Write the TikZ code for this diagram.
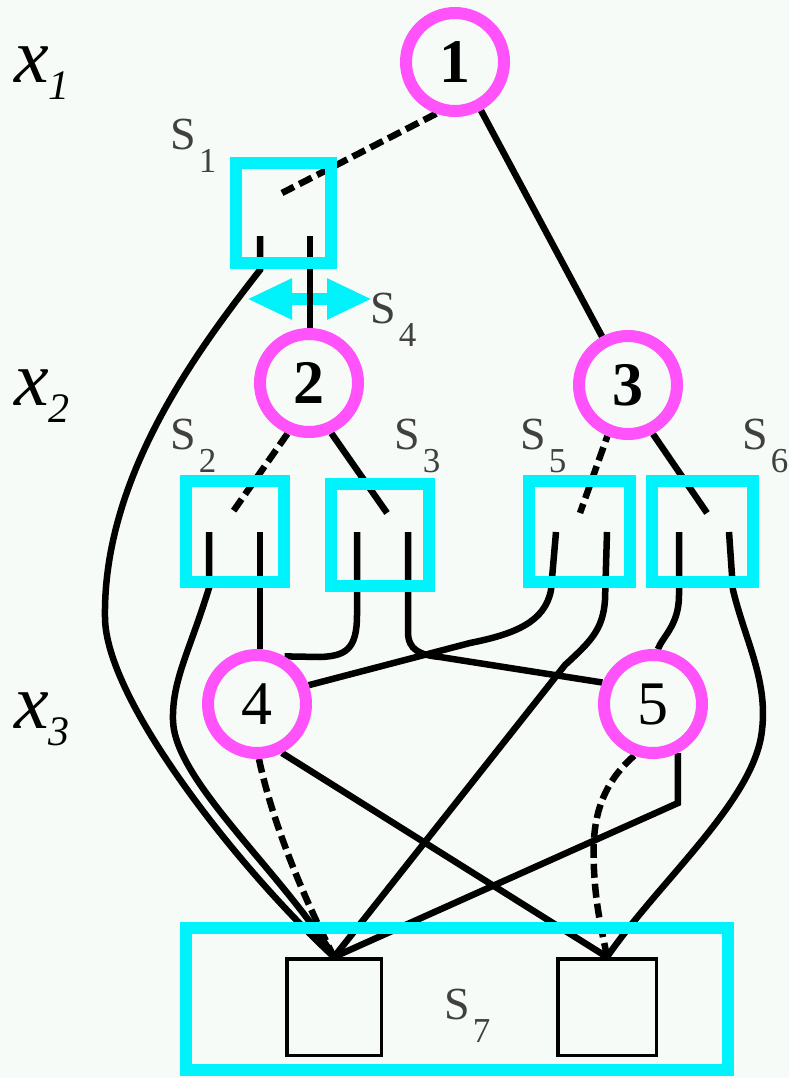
\documentclass[tikz,border=0pt]{standalone}
\usepackage{fontspec}
\setmainfont{Liberation Serif}
\usetikzlibrary{arrows.meta}
\definecolor{bg}{RGB}{246,251,247}
\definecolor{cyanc}{RGB}{0,242,250}
\definecolor{magc}{RGB}{255,82,250}
\pgfdeclarelayer{front}
\pgfsetlayers{main,front}
\newcommand{\slab}[1]{\fontsize{46}{46}\selectfont S\hspace{3pt}\raisebox{-23pt}{\fontsize{35}{35}\selectfont #1}}
\newcommand{\xlab}[1]{\fontsize{78}{78}\selectfont\itshape x\raisebox{-17pt}{\fontsize{42}{42}\selectfont #1}}
\begin{document}
\begin{tikzpicture}[x=1pt,y=-1pt,
  varnode/.style={circle, draw=magc, line width=12pt, fill=bg, minimum size=98pt, inner sep=0pt, font=\fontsize{62}{62}\selectfont},
  swbox/.style={rectangle, draw=cyanc, line width=12pt, inner sep=0pt},
  outbox/.style={rectangle, draw=black, line width=3.5pt, inner sep=0pt, minimum height=96.5pt},
  wire/.style={draw=black, line width=6.5pt},
  dwire/.style={wire, dash pattern=on 14pt off 6pt},
  lab/.style={anchor=base west, inner sep=0pt, text=black!75},
  xl/.style={anchor=base west, inner sep=0pt, text=black}
]
\path[use as bounding box, fill=bg] (0,0) rectangle (789,1078);

\begin{pgfonlayer}{front}
\node[varnode] (n1) at (455,62) {\bfseries 1};
\node[varnode] (n2) at (309,383) {\bfseries 2};
\node[varnode] (n3) at (628,385) {\bfseries 3};
\node[varnode] (n4) at (257,704) {4};
\node[varnode] (n5) at (653,704) {5};
\node[swbox, minimum width=95pt, minimum height=100pt] (S1) at (283.5,213) {};
\node[swbox, minimum width=98pt, minimum height=101pt] (S2) at (235,531.5) {};
\node[swbox, minimum width=98pt, minimum height=102pt] (S3) at (380,535) {};
\node[swbox, minimum width=101pt, minimum height=101pt] (S5) at (579.5,531.5) {};
\node[swbox, minimum width=101pt, minimum height=101pt] (S6) at (702.5,531.5) {};
\node[swbox, minimum width=542pt, minimum height=142pt] (S7) at (457,999) {};
\end{pgfonlayer}
\node[outbox, minimum width=94.5pt] (b1) at (334,1007) {};
\node[outbox, minimum width=98.5pt] (b2) at (607,1007) {};

\coordinate (s1in) at (282,193);
\coordinate (s1l) at (260,236);
\coordinate (s1r) at (310,236);
\coordinate (s2in) at (232,513);
\coordinate (s2l) at (209,532);
\coordinate (s2r) at (260,532);
\coordinate (s3in) at (387,513);
\coordinate (s3l) at (357,532);
\coordinate (s3r) at (408,532);
\coordinate (s5in) at (580,513);
\coordinate (s5l) at (556,532);
\coordinate (s5r) at (607,532);
\coordinate (s6in) at (707,513);
\coordinate (s6l) at (679,532);
\coordinate (s6r) at (729,532);
\coordinate (a4l) at (247,299);
\coordinate (a4r) at (372,299);

\draw[cyanc, line width=12pt, {Triangle[length=45pt,width=38pt]}-{Triangle[length=45pt,width=38pt]}] (a4l) -- (a4r);

\draw[wire] (n1) -- (n3);
\draw[dwire] (n1.250) -- (s1in);
\draw[wire] (s1l) -- (260,270) .. controls (200,347) and (103,475) .. (105,617) .. controls (105,700) and (240,870) .. (b1.north);
\draw[wire] (s1r) -- (s1r |- n2.north);
\draw[dwire] (n2.247) -- (s2in);
\draw[wire] (n2.294) -- (s3in);
\draw[wire] (s2l) -- (209,588) .. controls (190,650) and (172,680) .. (173,720) .. controls (174,780) and (280,870) .. (b1.north);
\draw[wire] (s2r) -- (s2r |- n4.north);
\draw[wire] (s3l) -- (357,615) .. controls (357,650) and (345,656) .. (320,657) -- (n4.60);
\draw[wire] (s3r) -- (408,632) .. controls (408,650) and (420,655) .. (440,657) -- (n5.157);
\draw[dwire, dash phase=8pt] (n3.248) -- (s5in);
\draw[wire] (n3.297) -- (s6in);
\draw[wire] (s5l) -- (551,590) .. controls (545,622) and (515,634) .. (470,643) -- (n4.20);
\draw[wire] (s5r) -- (605,600) .. controls (603,630) and (590,642) .. (565,665) -- (b1.north);
\draw[wire] (s6l) -- (679,595) .. controls (679,625) and (663,636) .. (n5.85);
\draw[wire] (s6r) -- (733,590) .. controls (745,640) and (768,680) .. (762,730) .. controls (755,800) and (660,880) .. (b2.north);
\draw[dwire] (n4.272) .. controls (272,820) and (300,890) .. (b1.north);
\draw[wire] (n4.297) -- (b2.north);
\draw[dwire] (n5.250) .. controls (595,790) and (592,830) .. (594,870) .. controls (596,910) and (603,935) .. (b2.north);
\draw[wire] (n5.297) -- ++(0,50) -- (b1.north);

\node[xl] (lx1) at (14,83) {\xlab{1}};
\node[xl] (lx2) at (14,405) {\xlab{2}};
\node[xl] (lx3) at (14,728) {\xlab{3}};
\node[lab] (l1) at (170,150) {\slab{1}};
\node[lab] (l4) at (370,323) {\slab{4}};
\node[lab] (l2) at (170,449) {\slab{2}};
\node[lab] (l3) at (394,449) {\slab{3}};
\node[lab] (l5) at (520,449) {\slab{5}};
\node[lab] (l6) at (742,449) {\slab{6}};
\node[lab] (l7) at (444,1019) {\slab{7}};
\end{tikzpicture}
\end{document}
